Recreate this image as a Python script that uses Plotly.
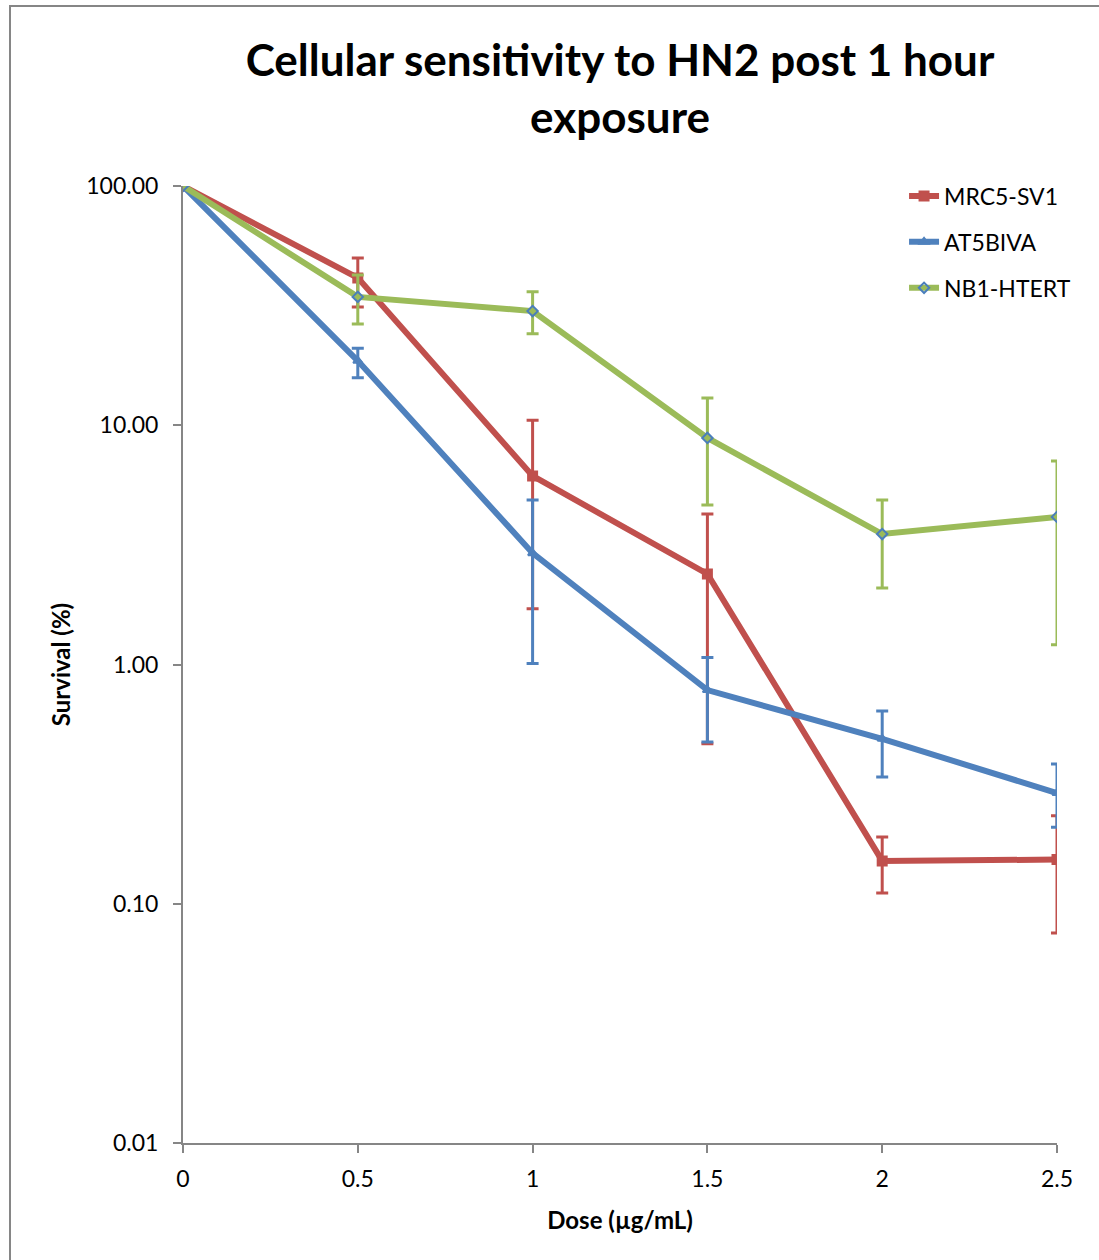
import plotly.graph_objects as go

dose = [0, 0.5, 1, 1.5, 2, 2.5]

mrc5 = [100, 41.3, 6.14, 2.39, 0.151, 0.153]
mrc5_hi = [100, 50.0, 10.5, 4.26, 0.190, 0.233]
mrc5_lo = [100, 31.2, 1.71, 0.466, 0.111, 0.0755]

at5 = [100, 18.6, 2.92, 0.782, 0.489, 0.290]
at5_hi = [100, 21.0, 4.87, 1.07, 0.639, 0.384]
at5_lo = [100, 15.8, 1.01, 0.474, 0.339, 0.209]

nb1 = [100, 34.4, 30.0, 8.85, 3.51, 4.14]
nb1_hi = [100, 42.5, 36.1, 13.0, 4.87, 7.09]
nb1_lo = [100, 26.5, 24.1, 4.64, 2.09, 1.21]

names = ["MRC5-SV1", "AT5BIVA", "NB1-HTERT"]
colors = ["#C0504D", "#4F81BD", "#9BBB59"]
symbols = ["square", "triangle-up", "diamond-open"]
marker_colors = ["#C0504D", "#4F81BD", "#4A7EBB"]
marker_sizes = [9, 8, 8]

FONT = "Lato, 'Open Sans', sans-serif"

fig = go.Figure()
for name, y, hi, lo, c, s, mc, ms in zip(
    names,
    [mrc5, at5, nb1],
    [mrc5_hi, at5_hi, nb1_hi],
    [mrc5_lo, at5_lo, nb1_lo],
    colors, symbols, marker_colors, marker_sizes,
):
    fig.add_trace(go.Scatter(
        x=dose, y=y, name=name, legendgroup=name, mode="lines+markers",
        line=dict(color=c, width=6),
        marker=dict(symbol=s, color=mc, size=ms, line=dict(color=mc, width=2)),
        error_y=dict(
            type="data", symmetric=False,
            array=[h - v for h, v in zip(hi, y)],
            arrayminus=[v - l for v, l in zip(y, lo)],
            color=c, thickness=3, width=6,
        ),
    ))

fig.update_layout(
    width=1099, height=1260,
    margin=dict(l=183, r=42, t=186, b=117),
    paper_bgcolor="white", plot_bgcolor="white",
    font=dict(family=FONT, color="black", size=23),
    title=dict(
        text="<b>Cellular sensitivity to HN2 post 1 hour<br>exposure</b>",
        x=0.5, xref="paper", xanchor="center",
        y=1 - 76 / 1260, yref="container", yanchor="middle",
        font=dict(size=44, family=FONT),
    ),
    legend=dict(
        x=0.825, y=1.012, xanchor="left", yanchor="top",
        font=dict(size=23, family=FONT),
        bgcolor="rgba(0,0,0,0)", tracegroupgap=13,
    ),
    showlegend=True,
)

fig.update_xaxes(
    range=[0, 2.5], tickvals=[0, 0.5, 1, 1.5, 2, 2.5],
    ticktext=["0", "0.5", "1", "1.5", "2", "2.5"],
    showline=True, linecolor="#868686", linewidth=2,
    ticks="outside", ticklen=8, tickcolor="#868686", tickwidth=2,
    showgrid=False, zeroline=False,
    title=dict(text="<b>Dose (µg/mL)</b>", font=dict(size=24), standoff=22),
    tickfont=dict(size=23), ticklabelstandoff=6,
)
fig.update_yaxes(
    type="log", range=[-2, 2],
    tickvals=[0.01, 0.1, 1, 10, 100],
    ticktext=["0.01", "0.10", "1.00", "10.00", "100.00"],
    showline=True, linecolor="#868686", linewidth=2,
    ticks="outside", ticklen=8, tickcolor="#868686", tickwidth=2,
    showgrid=False, zeroline=False,
    title=dict(text="<b>Survival (%)</b>", font=dict(size=24), standoff=9),
    tickfont=dict(size=23), ticklabelstandoff=10,
)

# chart border
fig.add_shape(type="rect", xref="paper", yref="paper",
              x0=(10 - 183) / 874, x1=(1110 - 183) / 874,
              y0=(1143 - 1275) / 957, y1=(1143 - 6) / 957,
              line=dict(color="#868686", width=2), fillcolor="rgba(0,0,0,0)", layer="below")

fig.write_html("out.html")
